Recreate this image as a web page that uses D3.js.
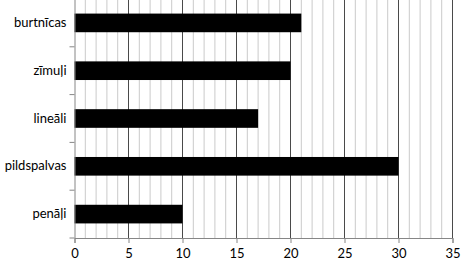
<!DOCTYPE html>
<html>
<head>
<meta charset="utf-8">
<script src="https://cdn.jsdelivr.net/npm/d3@7"></script>
<style>
  body { margin: 0; background: #fff; }
  svg text { font-family: Lato, "Open Sans", sans-serif; font-size: 12px; fill: #000; }
</style>
</head>
<body>
<div id="chart"></div>
<script>
var categories = ['burtnīcas', 'zīmuļi', 'lineāli', 'pildspalvas', 'penāļi'];
var values = [21, 20, 17, 30, 10];
var xTicks = [0, 5, 10, 15, 20, 25, 30, 35];

var width = 462,
    height = 266,
    margin = {top: -1, right: 9, bottom: 28, left: 74.5};

var innerW = width - margin.left - margin.right,
    innerH = height - margin.top - margin.bottom;

var svg = d3.select('#chart')
    .append('svg')
    .attr('width', width)
    .attr('height', height)
    .append('g')
    .attr('transform', `translate(${margin.left},${margin.top})`);

var x = d3.scaleLinear().domain([0, 35]).range([0, 378]);
var y = d3.scaleBand().domain(categories).range([0, innerH]).paddingInner(0.61).paddingOuter(0.305);
var yBand = d3.scaleBand().domain(categories).range([0, innerH]);

// minor gridlines
svg.append('g')
    .selectAll('line')
    .data(d3.range(1, 36).filter(d => d % 5 !== 0))
    .enter().append('line')
    .attr('x1', d => x(d)).attr('x2', d => x(d))
    .attr('y1', 0).attr('y2', innerH)
    .style('stroke', '#cacaca')
    .style('stroke-width', 1);

// major gridlines
svg.append('g')
    .selectAll('line')
    .data(xTicks.filter(d => d > 0))
    .enter().append('line')
    .attr('x1', d => x(d)).attr('x2', d => x(d))
    .attr('y1', 0).attr('y2', innerH)
    .style('stroke', '#4a4a4a')
    .style('stroke-width', 1);

// bars
svg.selectAll('.bar')
    .data(categories)
    .enter().append('rect')
    .attr('class', 'bar')
    .attr('x', 0)
    .attr('y', d => y(d))
    .attr('width', (d, i) => x(values[i]))
    .attr('height', y.bandwidth())
    .style('fill', '#000');

// x axis
var xAxis = svg.append('g')
    .attr('transform', `translate(0,${innerH})`)
    .call(d3.axisBottom(x).tickValues(xTicks).tickSize(5).tickPadding(6));
xAxis.select('.domain').attr('stroke', '#868686');
xAxis.selectAll('.tick line').attr('stroke', '#868686');
xAxis.selectAll('text').style('font-size', '13px');

// y axis
var yAxis = svg.append('g')
    .call(d3.axisLeft(yBand).tickSize(0).tickPadding(8));
yAxis.select('.domain').attr('stroke', '#868686');
yAxis.selectAll('text').style('font-size', '13px');

svg.append('g')
    .selectAll('line')
    .data(categories)
    .enter().append('line')
    .attr('x1', -5).attr('x2', 0)
    .attr('y1', d => yBand(d) + yBand.bandwidth()).attr('y2', d => yBand(d) + yBand.bandwidth())
    .style('stroke', '#868686');
</script>
</body>
</html>
